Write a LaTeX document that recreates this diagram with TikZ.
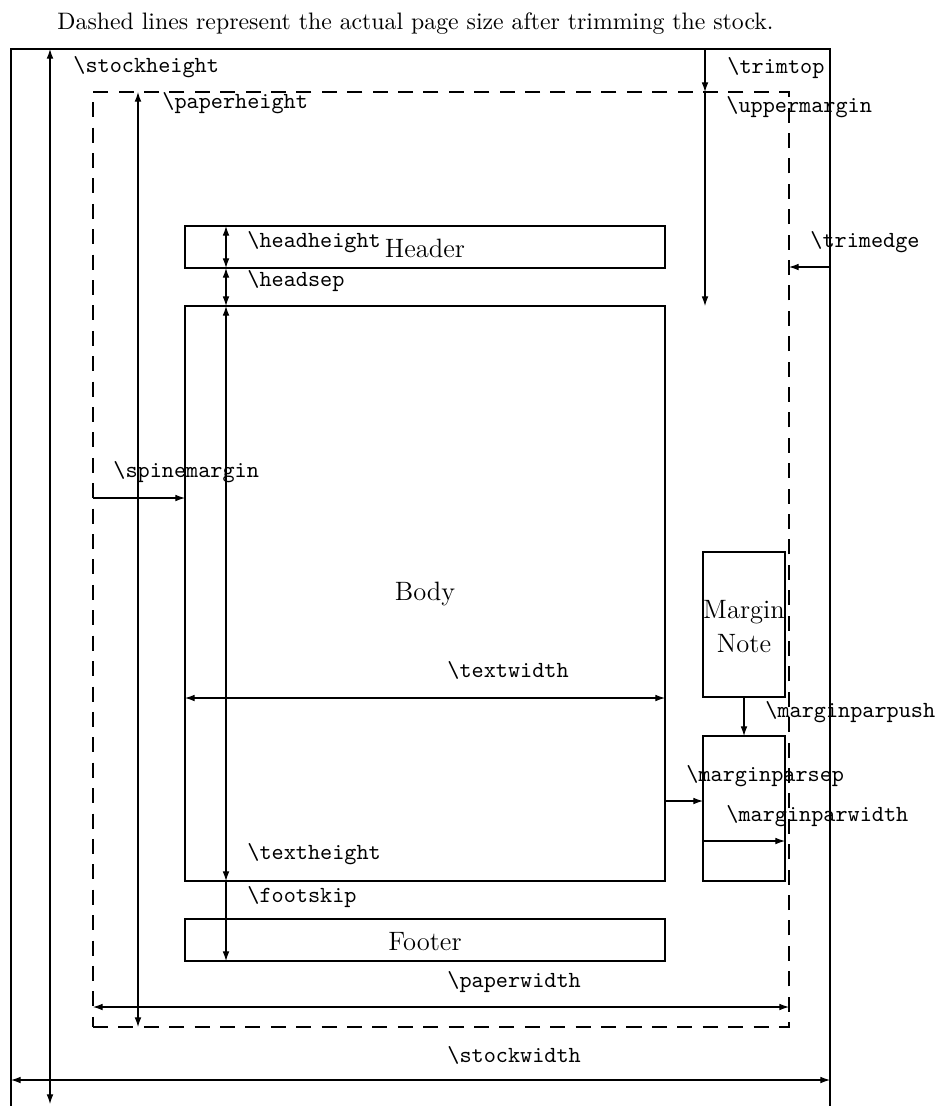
\documentclass[tikz,border=0pt]{standalone}
\usetikzlibrary{arrows.meta,fit}
\newcommand{\csn}[1]{\texttt{\textbackslash #1}}
\begin{document}
\begin{tikzpicture}[x=0.433pt,y=-0.433pt,
  dim/.style={line width=0.45pt},
  both/.style={dim,{Latex[length=4.2pt,width=2.9pt]}-{Latex[length=4.2pt,width=2.9pt]}},
  fwd/.style={dim,-{Latex[length=4.2pt,width=2.9pt]}},
  box/.style={draw,line width=1pt,inner sep=0pt},
  dbox/.style={box,dash pattern=on 6.5pt off 4.5pt},
  lbl/.style={inner sep=0pt,anchor=base west,font=\fontsize{10}{12}\selectfont},
  big/.style={inner sep=0pt,anchor=base,font=\fontsize{11.5}{14}\selectfont}]
\useasboundingbox (0,0) rectangle (940,1106);
\clip (0,0) rectangle (940,1106);

\node[inner sep=0pt,anchor=base west,font=\fontsize{10.3}{12}\selectfont] (cap) at (57,29)
  {Dashed lines represent the actual page size after trimming the stock.};

% boxes
\node[box,fit={(11,49)(830,1130)}] (stock) {};
\node[dbox,fit={(93,92)(789,1027)}] (paper) {};
\node[box,fit={(185,226)(665,268)}] (header) {};
\node[box,fit={(185,306)(665,881)}] (body) {};
\node[box,fit={(185,919)(665,961)}] (footer) {};
\node[box,fit={(703,552)(785,697)}] (note1) {};
\node[box,fit={(703,736)(785,881)}] (note2) {};

% coordinates
\coordinate (sh1) at (50,49);   \coordinate (sh2) at (50,1104);
\coordinate (ph1) at (138,92);  \coordinate (ph2) at (138,1027);
\coordinate (tt1) at (705,49);  \coordinate (tt2) at (705,92);
\coordinate (um2) at (705,306);
\coordinate (te1) at (830,267); \coordinate (te2) at (789,267);
\coordinate (hh1) at (226,226); \coordinate (hh2) at (226,268);
\coordinate (hs2) at (226,306);
\coordinate (th2) at (226,881);
\coordinate (fs2) at (226,961);
\coordinate (sm1) at (93,498);  \coordinate (sm2) at (185,498);
\coordinate (tw1) at (185,698); \coordinate (tw2) at (665,698);
\coordinate (mp1) at (744,697); \coordinate (mp2) at (744,736);
\coordinate (ms1) at (665,801); \coordinate (ms2) at (703,801);
\coordinate (mw1) at (703,841); \coordinate (mw2) at (785,841);
\coordinate (pw1) at (93,1007); \coordinate (pw2) at (789,1007);
\coordinate (sw1) at (11,1080); \coordinate (sw2) at (830,1080);

% dimension arrows
\draw[both] (sh1) -- (sh2);
\draw[both] (ph1) -- (ph2);
\draw[fwd] (tt1) -- (tt2);
\draw[fwd] (tt2) -- (um2);
\draw[fwd] (te1) -- (te2);
\draw[both] (hh1) -- (hh2);
\draw[both] (hh2) -- (hs2);
\draw[both] (hs2) -- (th2);
\draw[fwd] (th2) -- (fs2);
\draw[fwd] (sm1) -- (sm2);
\draw[both] (tw1) -- (tw2);
\draw[fwd] (mp1) -- (mp2);
\draw[fwd] (ms1) -- (ms2);
\draw[fwd] (mw1) -- (mw2);
\draw[both] (pw1) -- (pw2);
\draw[both] (sw1) -- (sw2);

% labels
\node[lbl] (l-sh) at (73,72) {\csn{stockheight}};
\node[lbl] (l-tt) at (727,73) {\csn{trimtop}};
\node[lbl] (l-ph) at (162,108) {\csn{paperheight}};
\node[lbl] (l-um) at (726,112) {\csn{uppermargin}};
\node[lbl] (l-te) at (810,247) {\csn{trimedge}};
\node[lbl] (l-hh) at (247,247) {\csn{headheight}};
\node[lbl] (l-hs) at (247,286) {\csn{headsep}};
\node[lbl] (l-sm) at (113,477) {\csn{spinemargin}};
\node[lbl] (l-tw) at (447,677) {\csn{textwidth}};
\node[lbl] (l-mp) at (765,717) {\csn{marginparpush}};
\node[lbl] (l-ms) at (686,781) {\csn{marginparsep}};
\node[lbl] (l-mw) at (726,821) {\csn{marginparwidth}};
\node[lbl] (l-th) at (247,859) {\csn{textheight}};
\node[lbl] (l-fs) at (247,902) {\csn{footskip}};
\node[lbl] (l-pw) at (447,987) {\csn{paperwidth}};
\node[lbl] (l-sw) at (447,1062) {\csn{stockwidth}};

\node[big] (t-header) at (425,257) {Header};
\node[big] (t-body) at (425,600) {Body};
\node[big] (t-margin) at (744,618) {Margin};
\node[big] (t-note) at (744,652) {Note};
\node[big] (t-footer) at (425,950) {Footer};
\end{tikzpicture}
\end{document}
